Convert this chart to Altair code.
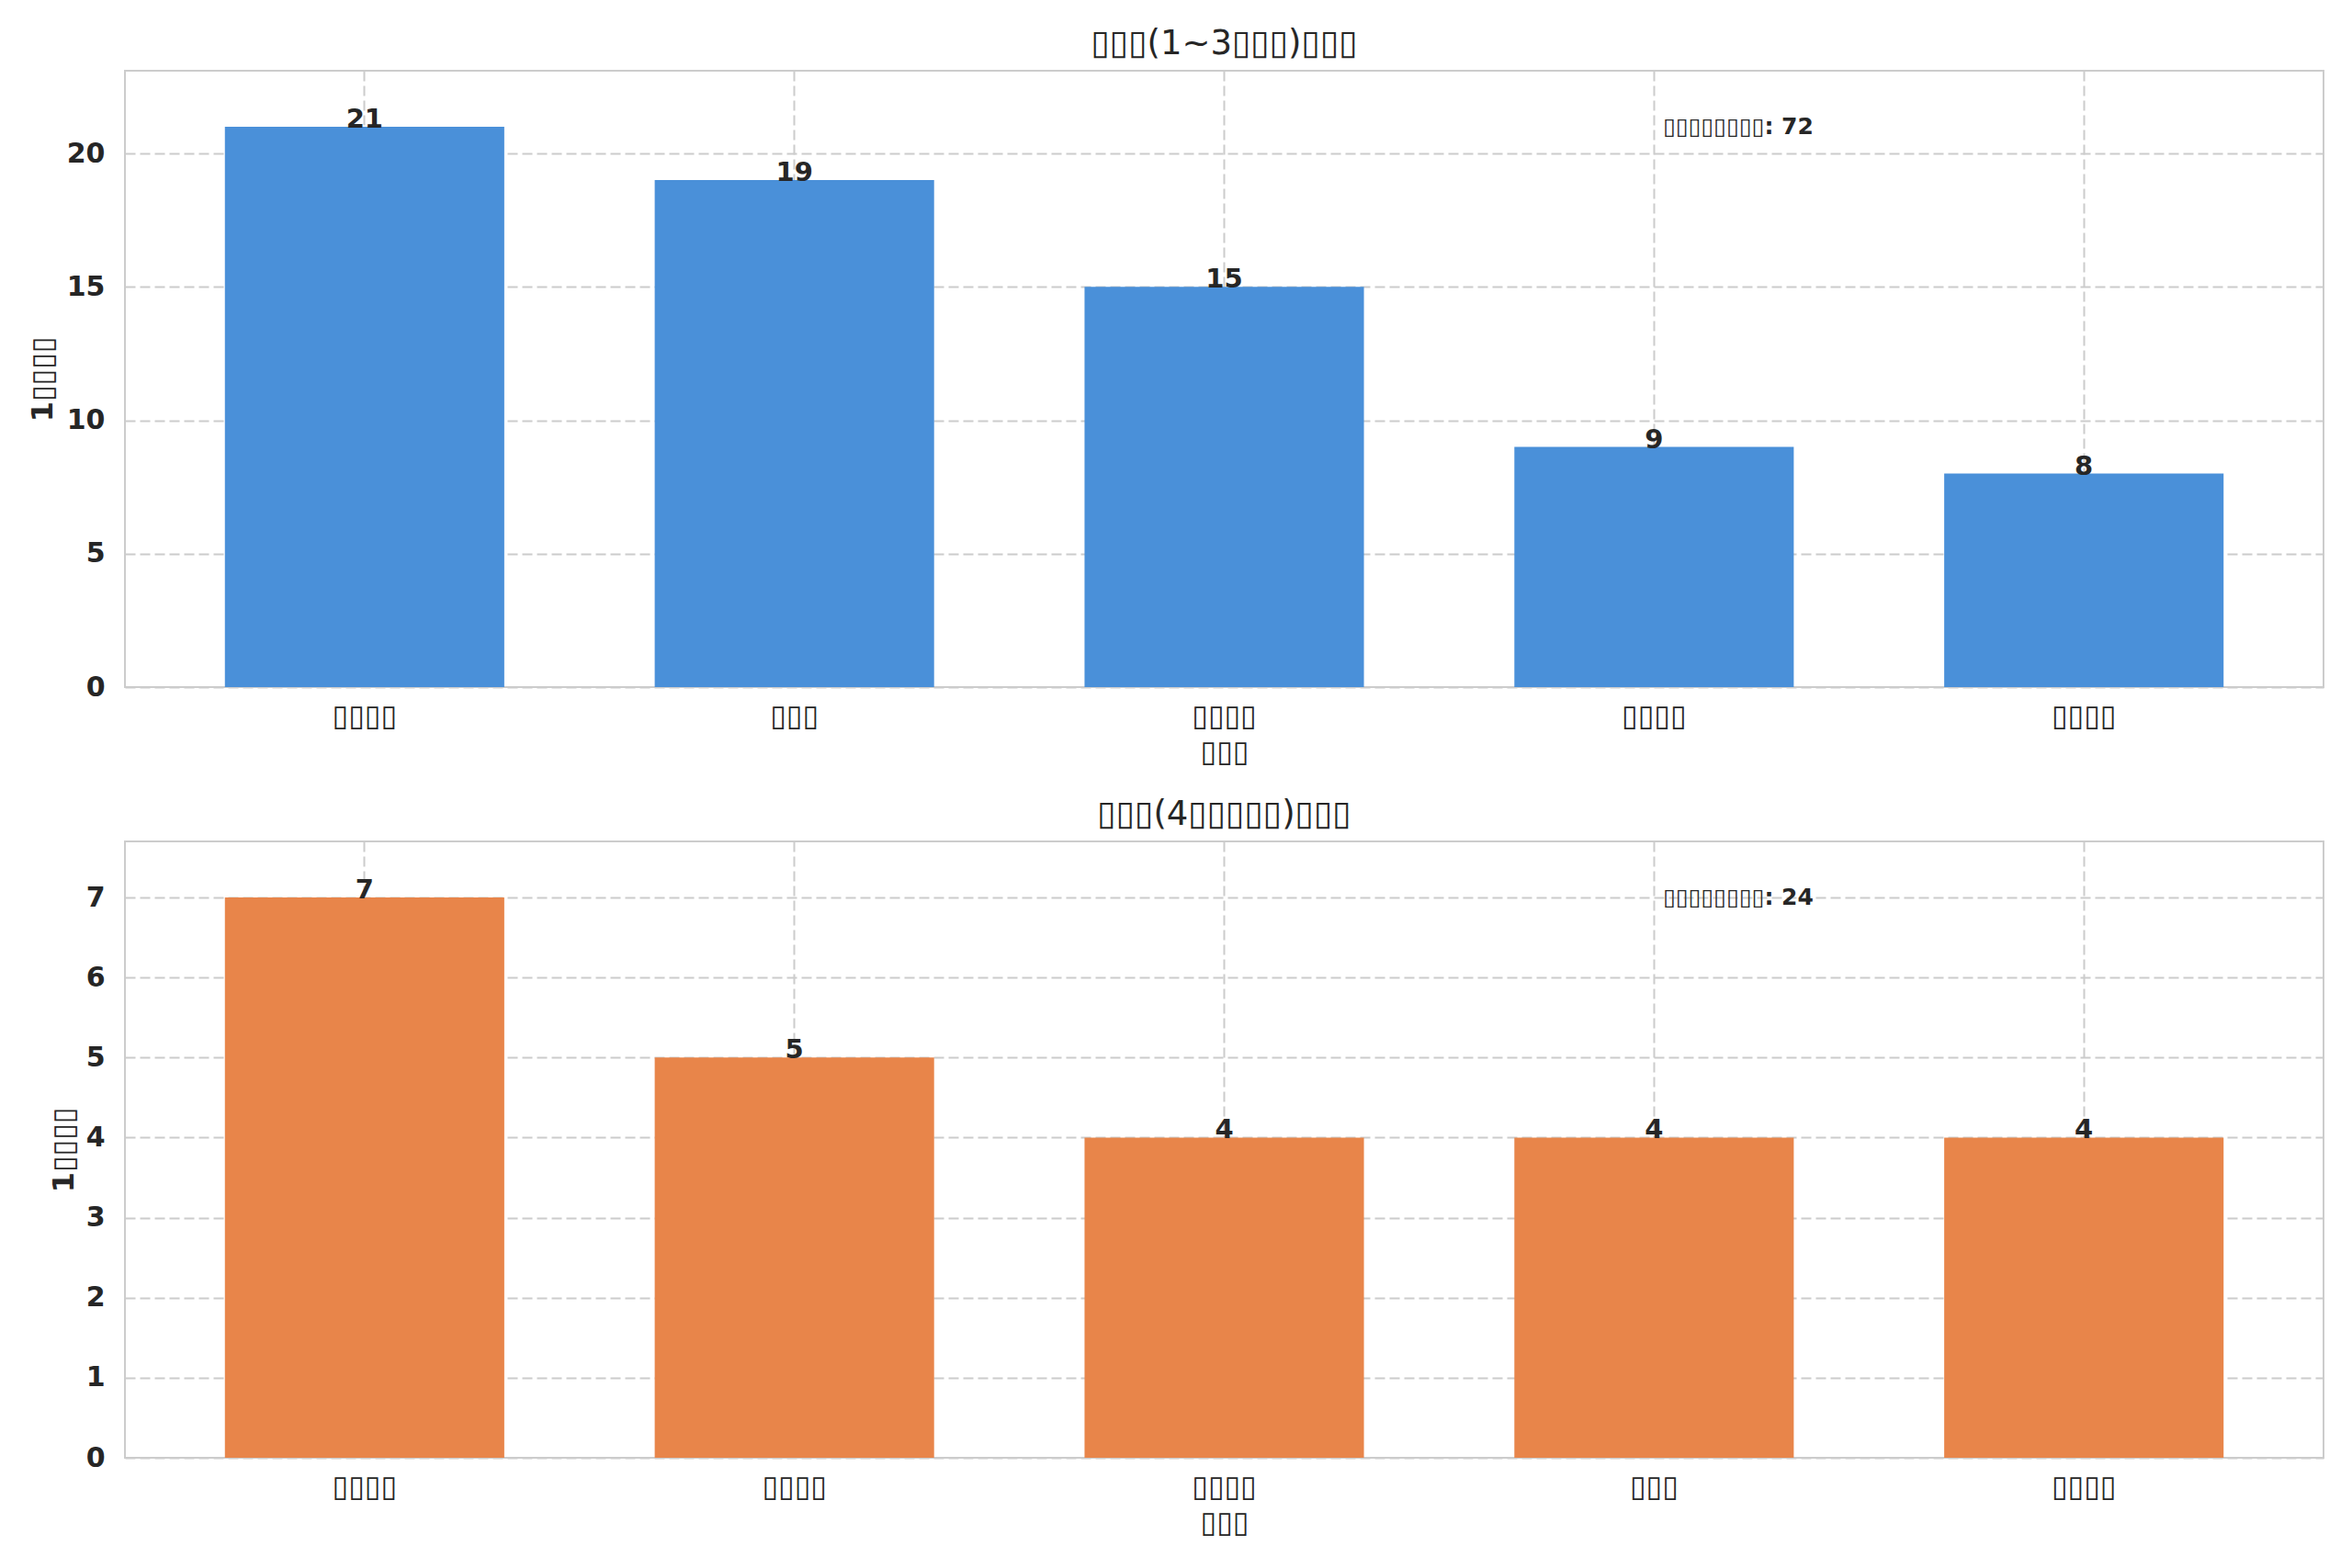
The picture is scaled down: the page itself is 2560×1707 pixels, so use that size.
import json
import altair as alt
import pandas as pd

# ---- data (CJK text renders as missing-glyph boxes there) ----
top_title = "▯▯▯(1~3▯▯▯)▯▯▯"
top_labels = ["▯▯▯▯", "▯▯▯", "▯▯▯▯", "▯▯▯▯", "▯▯▯▯"]
top_values = [21, 19, 15, 9, 8]
top_ticks = [0, 5, 10, 15, 20]
top_color = "#4A90D9"

bottom_title = "▯▯▯(4▯▯▯▯▯)▯▯▯"
bottom_labels = ["▯▯▯▯", "▯▯▯▯", "▯▯▯▯", "▯▯▯", "▯▯▯▯"]
bottom_values = [7, 5, 4, 4, 4]
bottom_ticks = [0, 1, 2, 3, 4, 5, 6, 7]
bottom_color = "#E8854A"

x_title = "▯▯▯"
y_title = "1▯▯▯▯"
total_prefix = "▯▯▯▯▯▯▯▯: "

TEXT = "#262626"
GRID = "#cccccc"
W, H = 2393, 671


def panel(title, labels, values, ticks, color, y_title_x):
    df = pd.DataFrame({"rank": list(range(len(values))), "value": values})
    df_total = pd.DataFrame({"rank": [len(values) - 2], "value": [max(values)],
                             "label": [f"{total_prefix}{sum(values)}"]})
    label_expr = f"{json.dumps(labels, ensure_ascii=False)}[datum.value]"
    x = alt.X("rank:O",
              scale=alt.Scale(paddingInner=0.35, paddingOuter=0.2325),
              axis=alt.Axis(title=x_title, labelExpr=label_expr, labelAngle=0,
                            grid=True, bandPosition=0.5, ticks=False, tickSize=0,
                            domain=False, labelPadding=16, titlePadding=8,
                            labelFont="DejaVu Sans", labelFontSize=32,
                            labelFontWeight="bold", labelColor=TEXT,
                            titleFont="DejaVu Sans", titleFontSize=32,
                            titleFontWeight="bold", titleColor=TEXT,
                            gridColor=GRID, gridDash=[11, 5], gridWidth=2))
    y = alt.Y("value:Q",
              scale=alt.Scale(domain=[0, max(values) * 1.1], nice=False),
              axis=alt.Axis(title=y_title, values=ticks, format="d", grid=True,
                            ticks=False, tickSize=0, domain=False, labelPadding=22,
                            labelFont="DejaVu Sans", labelFontSize=30,
                            labelFontWeight="bold", labelColor=TEXT,
                            titleFont="DejaVu Sans", titleFontSize=32,
                            titleFontWeight="bold", titleColor=TEXT,
                            titleX=y_title_x, titleBaseline="middle",
                            gridColor=GRID, gridDash=[11, 5], gridWidth=2))
    base = alt.Chart(df)
    bars = base.mark_bar(color=color).encode(x=x, y=y)
    nums = base.mark_text(baseline="alphabetic", dy=1, font="DejaVu Sans", fontSize=29,
                          fontWeight="bold", color=TEXT).encode(
        x=alt.X("rank:O"), y=alt.Y("value:Q"), text=alt.Text("value:Q"))
    total = alt.Chart(df_total).mark_text(align="left", baseline="middle", dx=10,
                                          font="DejaVu Sans", fontSize=25,
                                          fontWeight="bold", color=TEXT).encode(
        x=alt.X("rank:O"), y=alt.Y("value:Q"), text="label:N")
    return alt.layer(bars, nums, total).properties(
        width=W, height=H,
        title=alt.TitleParams(title, font="DejaVu Sans", fontSize=37,
                              fontWeight="normal", color=TEXT, offset=10))


top = panel(top_title, top_labels, top_values, top_ticks, top_color, -89.5)
bottom = panel(bottom_title, bottom_labels, bottom_values, bottom_ticks, bottom_color, -66.5)

chart = alt.vconcat(top, bottom, spacing=168, bounds="flush").properties(
    padding={"left": 21, "top": 20, "right": 20, "bottom": 20},
    background="white",
).configure_view(stroke=GRID, strokeWidth=2).configure_concat(spacing=168)

chart.save("out.html", embed_options={"renderer": "svg", "actions": False})
